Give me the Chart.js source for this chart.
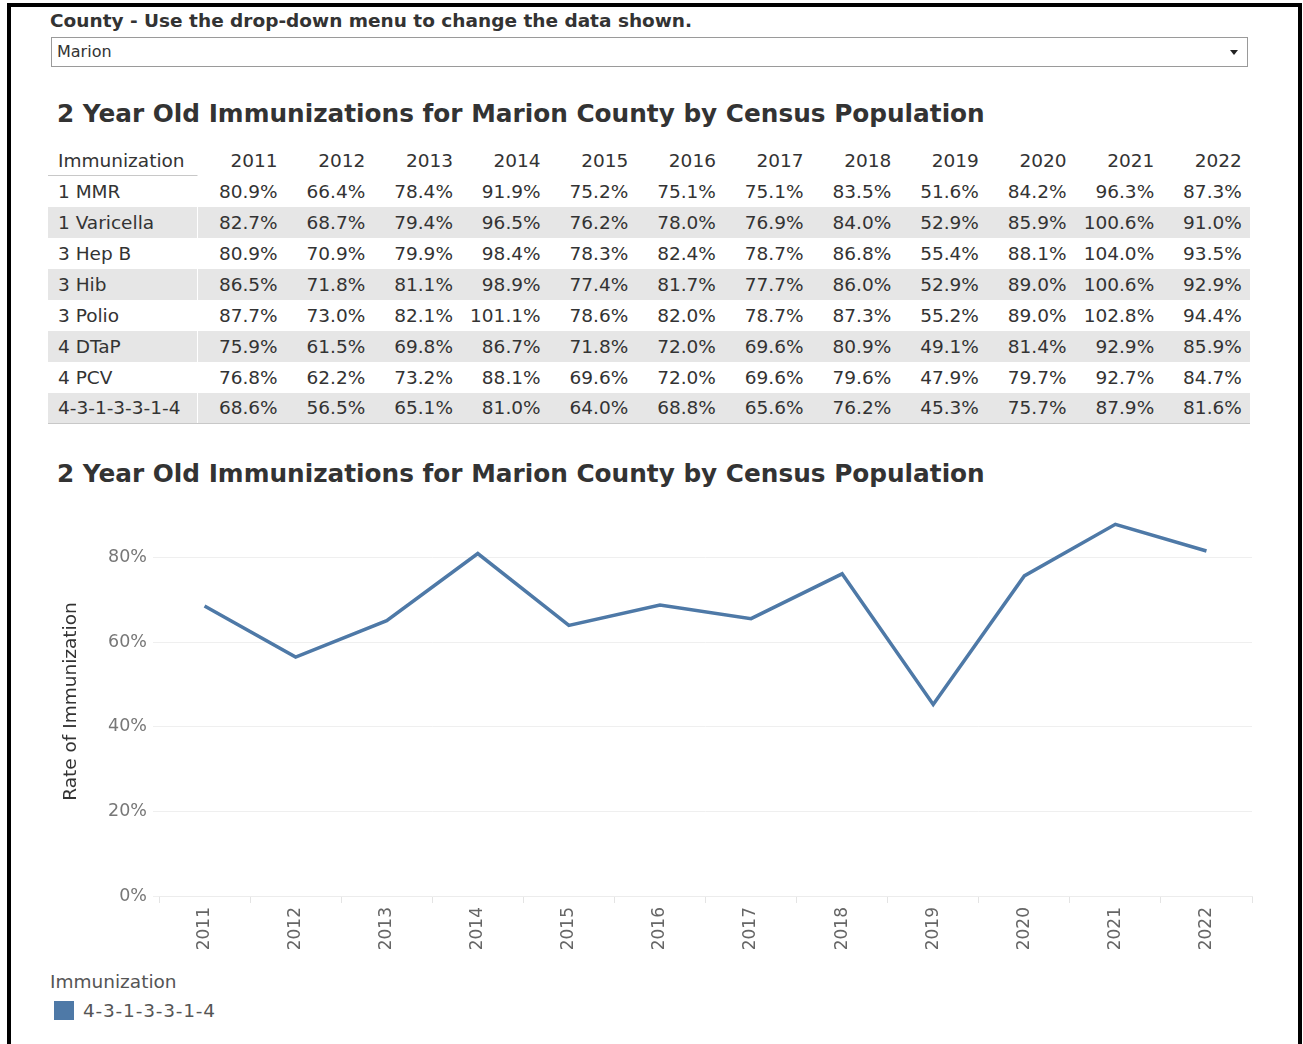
<!DOCTYPE html>
<html>
<head>
<meta charset="utf-8">
<script src="https://cdn.jsdelivr.net/npm/chart.js@4.4.1/dist/chart.umd.min.js"></script>
<style>
  html, body { margin: 0; padding: 0; background: #fff; overflow: hidden; }
  body { width: 1303px; height: 1044px; position: relative; font-family: 'DejaVu Sans', Verdana, sans-serif; color: #333; }
  .frame { position: absolute; left: 7px; top: 3px; width: 1287px; height: 1100px; border: 4px solid #000; }
  .abs { position: absolute; white-space: nowrap; }
  .filter-label { left: 50px; top: 10px; font-size: 18.5px; font-weight: bold; line-height: 22px; }
  .dropdown { left: 51px; top: 37px; width: 1195px; height: 28px; border: 1px solid #9a9a9a; }
  .dropdown span { position: absolute; left: 5px; top: 0; line-height: 28px; font-size: 16px; color: #333; }
  .dropdown i { position: absolute; right: 9px; top: 12px; width: 0; height: 0;
    border-left: 4px solid transparent; border-right: 4px solid transparent; border-top: 5px solid #222; }
  .title { left: 57px; font-size: 24.75px; font-weight: bold; line-height: 30px; }
  #tbl { position: absolute; left: 48px; top: 146px; width: 1202px; font-size: 18.5px; }
  .row { display: flex; height: 31px; line-height: 31px; box-sizing: border-box; }
  .row.head { height: 30px; line-height: 30px; }
  .row.shade { background: #e6e6e6; }
  .row.last { border-bottom: 1px solid #c8c8c8; line-height: 30px; }
  .cell { box-sizing: border-box; width: 87.67px; text-align: right; padding-right: 8px; }
  .cell.lab { width: 150px; text-align: left; padding-left: 10px; padding-right: 0; border-right: 1px solid #fff; }
  .row.head .cell.lab { border-bottom: 1px solid #c8c8c8; }
  .chart-box { position: absolute; left: 11px; top: 490px; width: 1285px; height: 475px; }
  .legend-title { left: 50px; top: 971px; font-size: 18.5px; line-height: 22px; color: #555; }
  .legend-swatch { left: 54px; top: 1001px; width: 20px; height: 19px; background: #4e79a7; }
  .legend-text { left: 83px; top: 1000px; font-size: 18.5px; line-height: 22px; color: #555; letter-spacing: 0.8px; }
</style>
</head>
<body>
<div class="frame"></div>
<div class="abs filter-label">County - Use the drop-down menu to change the data shown.</div>
<div class="abs dropdown"><span>Marion</span><i></i></div>
<div class="abs title" style="top:99px">2 Year Old Immunizations for Marion County by Census Population</div>
<div id="tbl"></div>
<div class="abs title" style="top:459px">2 Year Old Immunizations for Marion County by Census Population</div>
<div class="chart-box"><canvas id="chart-trend"></canvas></div>
<div class="abs legend-title">Immunization</div>
<div class="abs legend-swatch"></div>
<div class="abs legend-text" id="legend-text"></div>

<script>
const years = ['2011', '2012', '2013', '2014', '2015', '2016', '2017', '2018', '2019', '2020', '2021', '2022'];
const immunizations = ['1 MMR', '1 Varicella', '3 Hep B', '3 Hib', '3 Polio', '4 DTaP', '4 PCV', '4-3-1-3-3-1-4'];

const mmr1       = [80.9, 66.4, 78.4, 91.9, 75.2, 75.1, 75.1, 83.5, 51.6, 84.2, 96.3, 87.3];
const varicella1 = [82.7, 68.7, 79.4, 96.5, 76.2, 78.0, 76.9, 84.0, 52.9, 85.9, 100.6, 91.0];
const hepB3      = [80.9, 70.9, 79.9, 98.4, 78.3, 82.4, 78.7, 86.8, 55.4, 88.1, 104.0, 93.5];
const hib3       = [86.5, 71.8, 81.1, 98.9, 77.4, 81.7, 77.7, 86.0, 52.9, 89.0, 100.6, 92.9];
const polio3     = [87.7, 73.0, 82.1, 101.1, 78.6, 82.0, 78.7, 87.3, 55.2, 89.0, 102.8, 94.4];
const dtap4      = [75.9, 61.5, 69.8, 86.7, 71.8, 72.0, 69.6, 80.9, 49.1, 81.4, 92.9, 85.9];
const pcv4       = [76.8, 62.2, 73.2, 88.1, 69.6, 72.0, 69.6, 79.6, 47.9, 79.7, 92.7, 84.7];
const series4313314 = [68.6, 56.5, 65.1, 81.0, 64.0, 68.8, 65.6, 76.2, 45.3, 75.7, 87.9, 81.6];

const yTicks = [0, 20, 40, 60, 80];

// table on top
const rowsData = [mmr1, varicella1, hepB3, hib3, polio3, dtap4, pcv4, series4313314];
let html = '<div class="row head"><div class="cell lab">Immunization</div>';
years.forEach(y => { html += `<div class="cell">${y}</div>`; });
html += '</div>';
rowsData.forEach((vals, i) => {
  const cls = ['row'];
  if (i % 2 === 1) cls.push('shade');
  if (i === rowsData.length - 1) cls.push('last');
  html += `<div class="${cls.join(' ')}"><div class="cell lab">${immunizations[i]}</div>`;
  vals.forEach(v => { html += `<div class="cell">${v.toFixed(1)}%</div>`; });
  html += '</div>';
});
document.getElementById('tbl').innerHTML = html;

const seriesName = immunizations[immunizations.length - 1];
document.getElementById('legend-text').textContent = seriesName;

Chart.defaults.font.family = "'DejaVu Sans', Verdana, sans-serif";

new Chart(document.getElementById('chart-trend'), {
  type: 'line',
  data: {
    labels: years,
    datasets: [{
      label: seriesName,
      data: series4313314,
      borderColor: '#4e79a7',
      backgroundColor: '#4e79a7',
      borderWidth: 3.5,
      pointRadius: 0,
      tension: 0
    }]
  },
  options: {
    responsive: true,
    maintainAspectRatio: false,
    animation: false,
    layout: { padding: { left: 0, top: 17, right: 44, bottom: 0 } },
    plugins: { legend: { display: false }, tooltip: { enabled: false } },
    scales: {
      x: {
        type: 'category',
        offset: true,
        grid: { offset: true, drawOnChartArea: false, drawTicks: true, tickLength: 7, color: '#e4e4e4' },
        border: { color: '#ececec' },
        ticks: { minRotation: 90, maxRotation: 90, padding: 4, color: '#666', font: { size: 17 } },
        afterFit: (scale) => { scale.height = 69; }
      },
      y: {
        min: 0,
        max: 92,
        border: { display: false },
        grid: { color: '#efefef', tickLength: 6 },
        ticks: { stepSize: 20, padding: 6, color: '#777', font: { size: 17.5 }, callback: (v) => `${v}%` },
        afterBuildTicks: (scale) => { scale.ticks = yTicks.map(v => ({ value: v })); },
        title: { display: true, text: 'Rate of Immunization', color: '#333', font: { size: 18.5 }, padding: { top: 49, bottom: 0 } },
        afterFit: (scale) => { scale.width = 148; }
      }
    }
  }
});
</script>
</body>
</html>
